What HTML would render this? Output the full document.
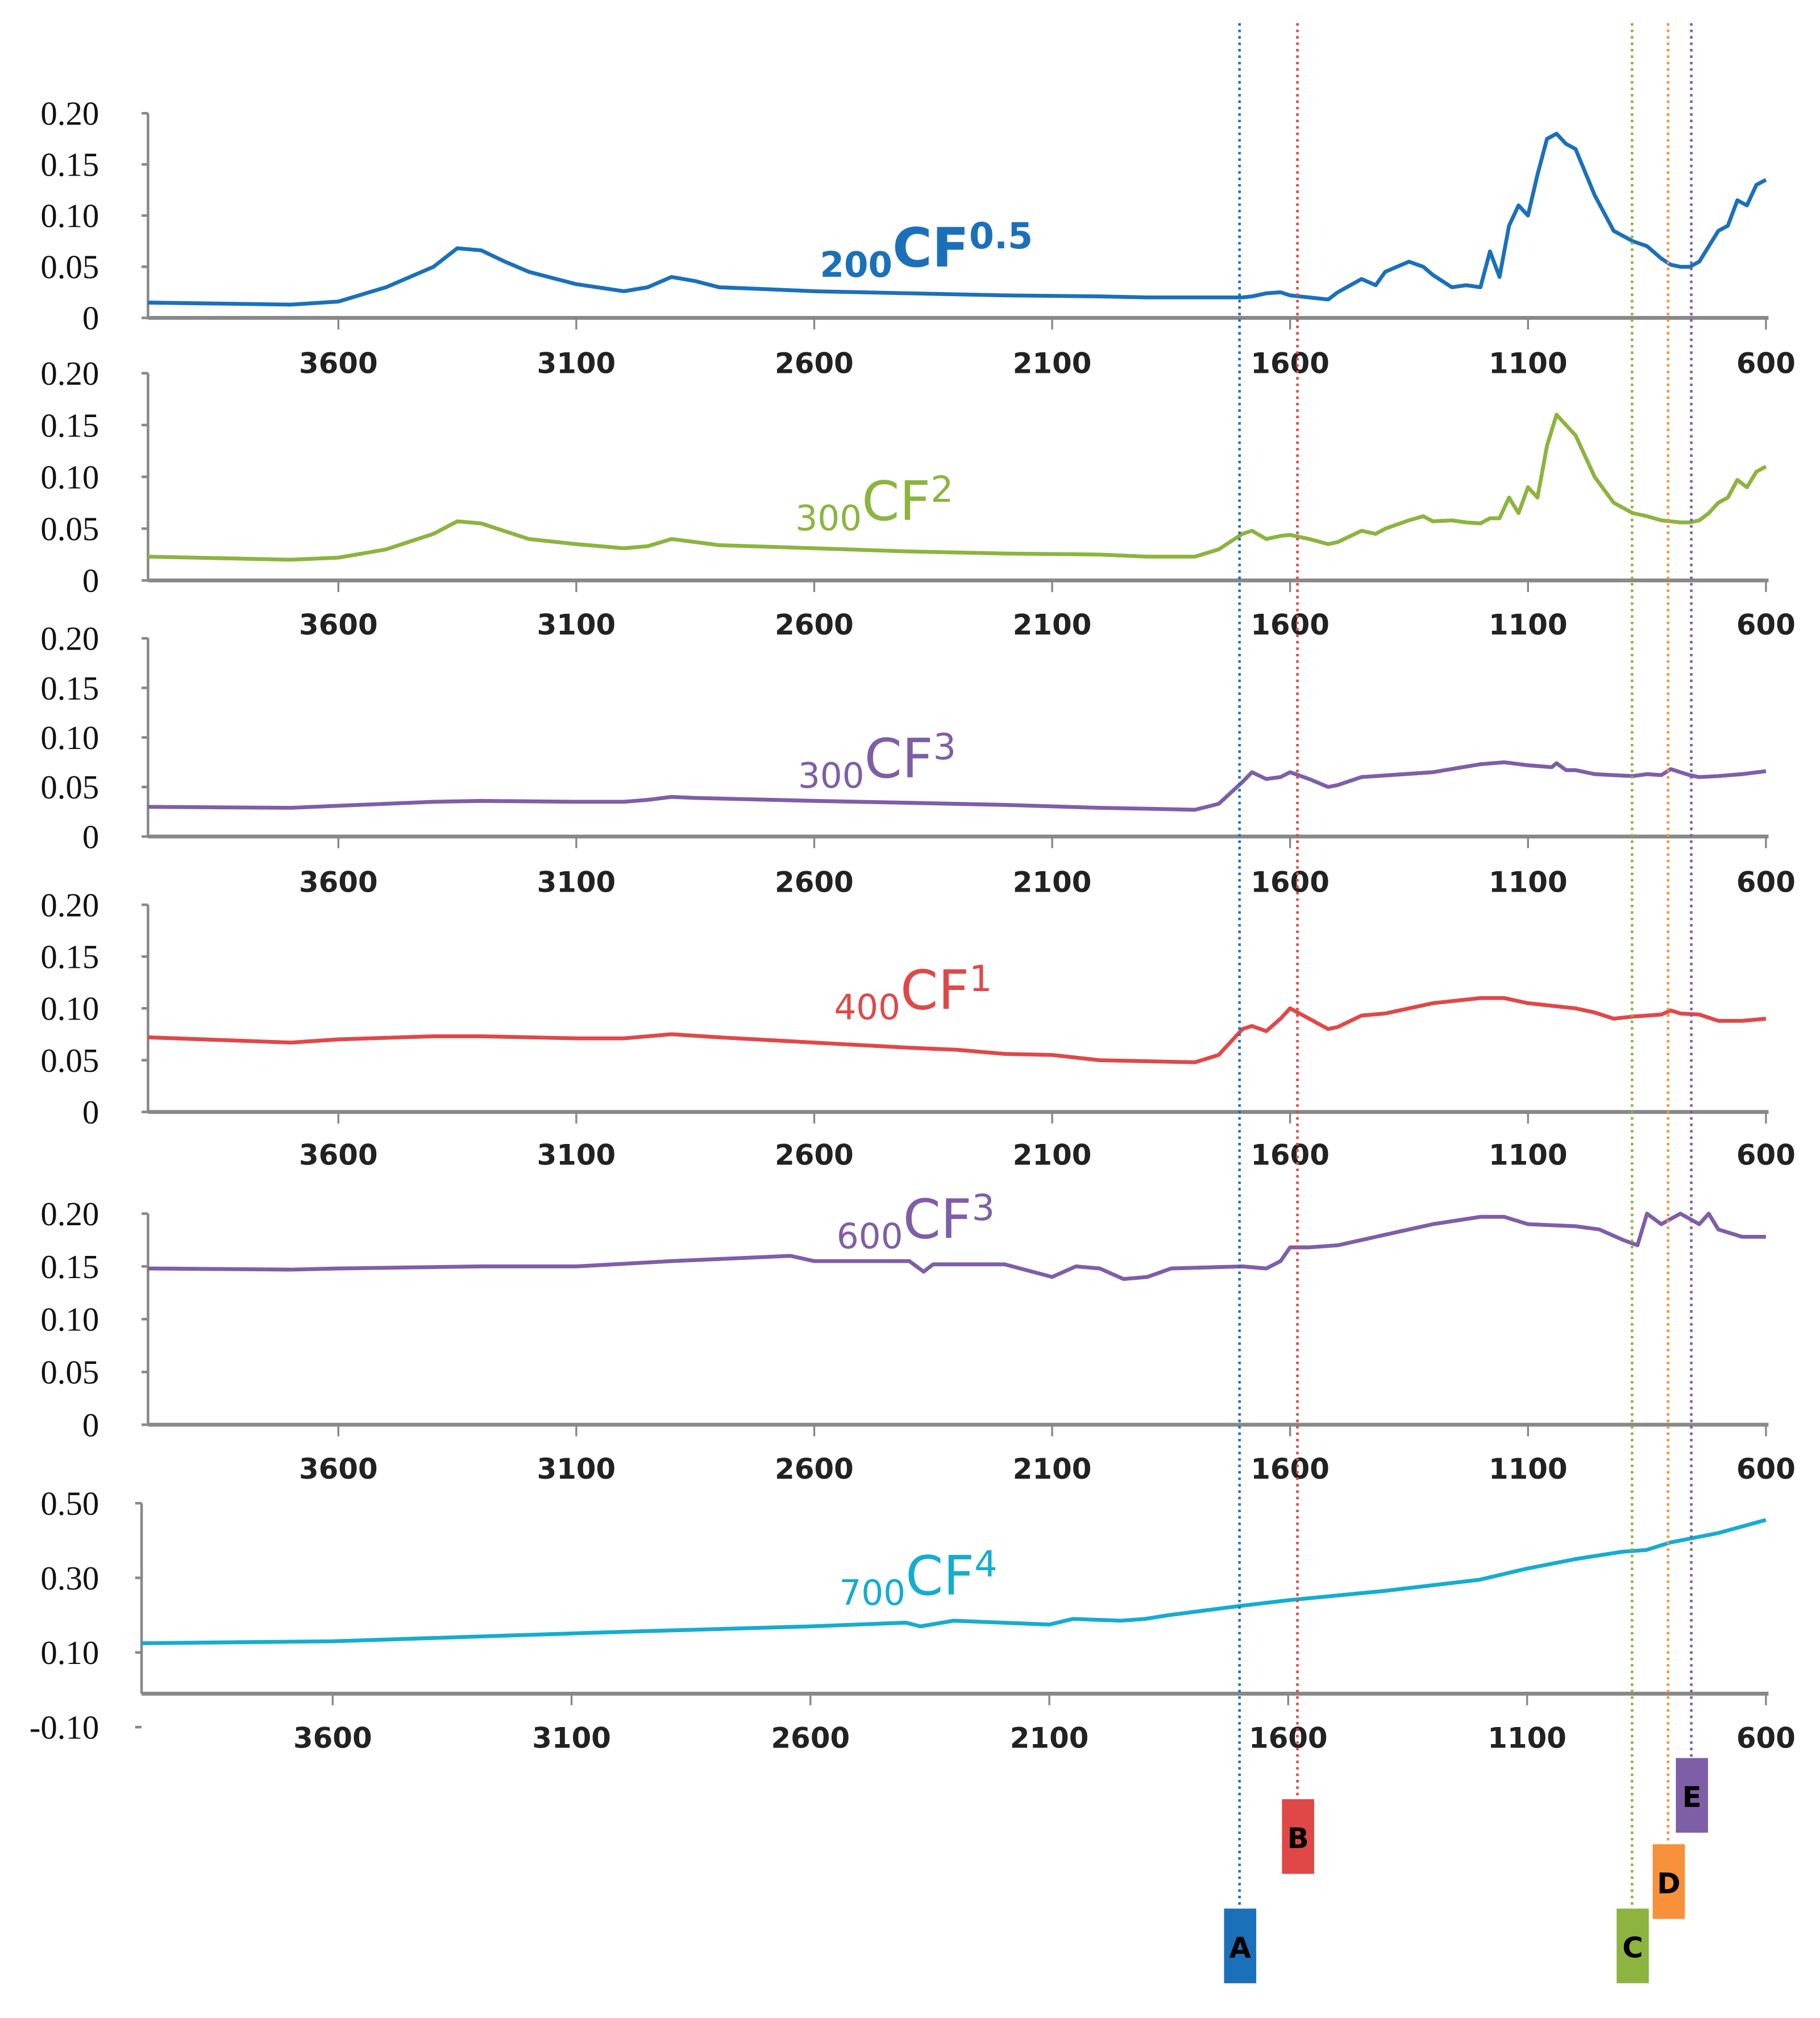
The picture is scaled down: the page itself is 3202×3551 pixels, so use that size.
<!DOCTYPE html>
<html><head><meta charset="utf-8"><style>
html,body{margin:0;padding:0;background:#fff;}
svg{display:block;}
.yl{font-family:"Liberation Serif",serif;font-size:26px;fill:#111;text-anchor:end;}
.xl{font-family:"DejaVu Sans",sans-serif;font-size:22px;font-weight:bold;fill:#222;text-anchor:middle;}
.mk{font-family:"DejaVu Sans",sans-serif;font-size:22px;font-weight:bold;fill:#000;text-anchor:middle;}
</style></head><body>
<svg id="chart" width="3202" height="3551" viewBox="0 0 1414 1568" preserveAspectRatio="none" xmlns="http://www.w3.org/2000/svg"></svg>
<script>
// x-axis ticks (wavenumber)
const xTicks = [3600, 3100, 2600, 2100, 1600, 1100, 600];
// series 1: 200CF0.5
const wn1 = [4000,3700,3600,3500,3400,3350,3300,3250,3200,3100,3000,2950,2900,2850,2800,2700,2600,2400,2200,2000,1900,1800,1700,1680,1650,1620,1600,1560,1520,1500,1450,1420,1400,1350,1320,1300,1260,1230,1200,1180,1160,1140,1120,1100,1080,1060,1040,1020,1000,960,920,880,850,820,800,780,760,740,720,700,680,660,640,620,600];
const val1 = [0.015,0.013,0.016,0.03,0.05,0.068,0.066,0.055,0.045,0.033,0.026,0.03,0.04,0.036,0.03,0.028,0.026,0.024,0.022,0.021,0.02,0.02,0.02,0.021,0.024,0.025,0.022,0.02,0.018,0.025,0.038,0.032,0.045,0.055,0.05,0.042,0.03,0.032,0.03,0.065,0.04,0.09,0.11,0.1,0.14,0.175,0.18,0.17,0.165,0.12,0.085,0.075,0.07,0.058,0.052,0.05,0.05,0.055,0.07,0.085,0.09,0.115,0.11,0.13,0.135];
// series 2: 300CF2
const wn2 = [4000,3700,3600,3500,3400,3350,3300,3200,3100,3000,2950,2900,2850,2800,2600,2400,2200,2000,1900,1800,1750,1700,1680,1650,1620,1600,1560,1520,1500,1450,1420,1400,1350,1320,1300,1260,1230,1200,1180,1160,1140,1120,1100,1080,1060,1040,1020,1000,960,920,880,850,820,800,780,760,740,720,700,680,660,640,620,600];
const val2 = [0.023,0.02,0.022,0.03,0.045,0.057,0.055,0.04,0.035,0.031,0.033,0.04,0.037,0.034,0.031,0.028,0.026,0.025,0.023,0.023,0.03,0.045,0.048,0.04,0.043,0.044,0.04,0.035,0.037,0.048,0.045,0.05,0.058,0.062,0.057,0.058,0.056,0.055,0.06,0.06,0.08,0.065,0.09,0.08,0.13,0.16,0.15,0.14,0.1,0.075,0.065,0.062,0.058,0.057,0.056,0.056,0.058,0.065,0.075,0.08,0.097,0.09,0.105,0.11];
// series 3: 300CF3
const wn3 = [4000,3700,3600,3400,3300,3100,3000,2950,2900,2850,2600,2400,2200,2000,1900,1800,1750,1700,1680,1650,1620,1600,1560,1520,1500,1450,1300,1200,1150,1100,1050,1040,1020,1000,960,920,880,850,820,800,780,760,740,700,650,600];
const val3 = [0.03,0.029,0.031,0.035,0.036,0.035,0.035,0.037,0.04,0.039,0.036,0.034,0.032,0.029,0.028,0.027,0.033,0.055,0.065,0.058,0.06,0.065,0.058,0.05,0.052,0.06,0.065,0.073,0.075,0.072,0.07,0.074,0.067,0.067,0.063,0.062,0.061,0.063,0.062,0.068,0.065,0.062,0.06,0.061,0.063,0.066];
// series 4: 400CF1
const wn4 = [4000,3700,3600,3400,3300,3100,3000,2900,2800,2600,2400,2300,2200,2100,2000,1800,1750,1700,1680,1650,1620,1600,1560,1520,1500,1450,1400,1300,1200,1150,1100,1000,960,920,880,850,820,800,780,740,700,650,600];
const val4 = [0.072,0.067,0.07,0.073,0.073,0.071,0.071,0.075,0.072,0.067,0.062,0.06,0.056,0.055,0.05,0.048,0.055,0.08,0.083,0.078,0.09,0.1,0.09,0.08,0.082,0.093,0.095,0.105,0.11,0.11,0.105,0.1,0.096,0.09,0.092,0.093,0.094,0.098,0.095,0.094,0.088,0.088,0.09];
// series 5: 600CF3
const wn5 = [4000,3700,3600,3300,3100,2900,2650,2600,2400,2370,2350,2200,2100,2050,2000,1950,1900,1850,1700,1650,1620,1600,1560,1500,1400,1300,1200,1150,1100,1000,950,900,870,850,820,780,740,720,700,650,600];
const val5 = [0.148,0.147,0.148,0.15,0.15,0.155,0.16,0.155,0.155,0.145,0.152,0.152,0.14,0.15,0.148,0.138,0.14,0.148,0.15,0.148,0.155,0.168,0.168,0.17,0.18,0.19,0.197,0.197,0.19,0.188,0.185,0.175,0.17,0.2,0.19,0.2,0.19,0.2,0.185,0.178,0.178];
// series 6: 700CF4
const wn6 = [4000,3600,3000,2600,2400,2370,2300,2100,2050,1950,1900,1850,1700,1600,1400,1200,1100,1000,900,850,800,700,600];
const val6 = [0.125,0.13,0.155,0.17,0.18,0.17,0.185,0.175,0.19,0.185,0.19,0.2,0.225,0.24,0.265,0.295,0.325,0.35,0.37,0.375,0.395,0.42,0.455];

const NS = "http://www.w3.org/2000/svg";
const svg = document.getElementById('chart');
function mk(tag, attrs, parent) {
  const e = document.createElementNS(NS, tag);
  for (const k in attrs) e.setAttribute(k, attrs[k]);
  (parent || svg).appendChild(e);
  return e;
}
const panels = [
  {wn:wn1, val:val1, color:'#1b70ba', x0:115, top:88, bot:247, ymax:0.2, ymin:0, yt:[0,0.05,0.1,0.15,0.2], yfmt:['0','0.05','0.10','0.15','0.20'], axisY:247, xlab:282, lx:637, ly:215, sub:'200', sup:'0.5', bold:true, name:'200cf05'},
  {wn:wn2, val:val2, color:'#8cb43f', x0:115, top:290, bot:451, ymax:0.2, ymin:0, yt:[0,0.05,0.1,0.15,0.2], yfmt:['0','0.05','0.10','0.15','0.20'], axisY:451, xlab:485, lx:618, ly:412, sub:'300', sup:'2', name:'300cf2'},
  {wn:wn3, val:val3, color:'#7f5ea8', x0:115, top:496, bot:650, ymax:0.2, ymin:0, yt:[0,0.05,0.1,0.15,0.2], yfmt:['0','0.05','0.10','0.15','0.20'], axisY:650, xlab:685, lx:620, ly:612, sub:'300', sup:'3', name:'300cf3'},
  {wn:wn4, val:val4, color:'#e04848', x0:115, top:703, bot:864, ymax:0.2, ymin:0, yt:[0,0.05,0.1,0.15,0.2], yfmt:['0','0.05','0.10','0.15','0.20'], axisY:864, xlab:897, lx:648, ly:792, sub:'400', sup:'1', name:'400cf1'},
  {wn:wn5, val:val5, color:'#7f5ea8', x0:115, top:943, bot:1107, ymax:0.2, ymin:0, yt:[0,0.05,0.1,0.15,0.2], yfmt:['0','0.05','0.10','0.15','0.20'], axisY:1107, xlab:1141, lx:650, ly:970, sub:'600', sup:'3', name:'600cf3'},
  {wn:wn6, val:val6, color:'#16acd0', x0:110, top:1168, bot:1342, ymax:0.5, ymin:-0.1, yt:[-0.1,0.1,0.3,0.5], yfmt:['-0.10','0.10','0.30','0.50'], axisY:1316, xlab:1350, lx:652, ly:1247, sub:'700', sup:'4', name:'700cf4'}
];
panels.forEach((p, i) => {
  const g = mk('g', {});
  
  
  const xs = w => 1372 - (w - 600) * (1372 - p.x0) / 3400;
  const ys = v => p.bot - (v - p.ymin) / (p.ymax - p.ymin) * (p.bot - p.top);
  const ya = mk('line', {x1:p.x0, y1:p.top, x2:p.x0, y2:p.axisY, stroke:'#888', 'stroke-width':2}, g);
  
  
  p.yt.forEach((v, j) => {
    mk('line', {x1:p.x0 - 5, y1:ys(v), x2:p.x0, y2:ys(v), stroke:'#888', 'stroke-width':2}, g);
    const t = mk('text', {x:77, y:ys(v) + 9, class:'yl'}, g);
    t.textContent = p.yfmt[j];
    
    
  });
  const xa = mk('line', {x1:p.x0, y1:p.axisY, x2:1374, y2:p.axisY, stroke:'#888', 'stroke-width':3}, g);
  
  
  xTicks.forEach(w => {
    mk('line', {x1:xs(w), y1:p.axisY, x2:xs(w), y2:p.axisY + 9, stroke:'#888', 'stroke-width':1.5}, g);
    const t = mk('text', {x:xs(w), y:p.xlab + 8, class:'xl'}, g);
    t.textContent = w;
    
    
  });
  const pts = p.wn.map((w, k) => xs(w).toFixed(1) + ',' + ys(p.val[k]).toFixed(1)).join(' ');
  const line = mk('polyline', {points:pts, fill:'none', stroke:p.color, 'stroke-width':3, 'stroke-linejoin':'round'}, g);
  
  
  const lab = mk('text', {x:p.lx, y:p.ly, fill:p.color, 'font-family':'DejaVu Sans, sans-serif', 'font-weight':p.bold ? 'bold' : 'normal'}, g);
  
  
  const s1 = mk('tspan', {'font-size':27, dy:0}, lab); s1.textContent = p.sub;
  const s2 = mk('tspan', {'font-size':42, dy:-8}, lab); s2.textContent = 'CF';
  const s3 = mk('tspan', {'font-size':28, dy:-14}, lab); s3.textContent = p.sup;
});
// marker lines
const mkX = [963, 1008, 1268, 1296, 1314];
const mkCol = ['#1b70ba', '#e04848', '#8cb43f', '#f7913a', '#7f5ea8'];
const mkLab = ['A', 'B', 'C', 'D', 'E'];
const mkBoxTop = [1483, 1398, 1483, 1433, 1366];
mkX.forEach((x, i) => {
  const l = mk('line', {x1:x, y1:18, x2:x, y2:mkBoxTop[i], stroke:mkCol[i], 'stroke-width':2, 'stroke-dasharray':'2,3'});
  
  
  const r = mk('rect', {x:x - 12, y:mkBoxTop[i], width:25, height:58, fill:mkCol[i]});
  
  
  const t = mk('text', {x:x + 0.5, y:mkBoxTop[i] + 38, class:'mk'});
  t.textContent = mkLab[i];
  
  
});
</script>
</body></html>
